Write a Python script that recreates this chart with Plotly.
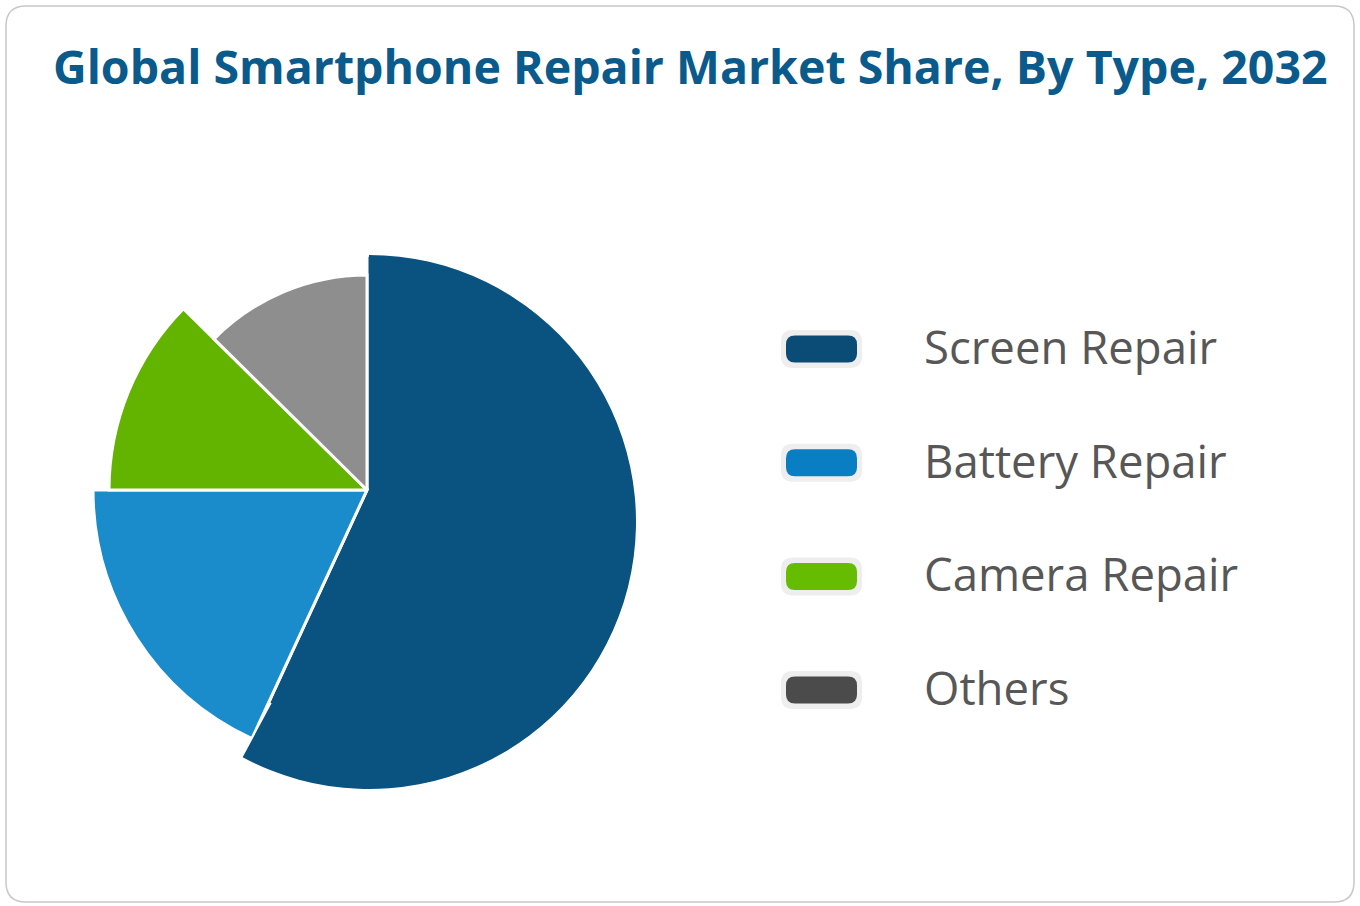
import plotly.graph_objects as go

# data
types = ['Screen Repair', 'Battery Repair', 'Camera Repair', 'Others']
share = [56.9, 18.1, 12.4, 12.6]          # % of the whole circle
radius_z = [267, 274, 258, 215]            # variable pie radius value

slice_colors = ['#0a5280', '#1a8bcb', '#63b400', '#8e8e8e']
legend_colors = ['#0b4c76', '#0a7ec2', '#65bc00', '#4b4b4b']

W, H = 1360, 906


def px(x):
    return x / W


def py(y):
    return 1 - y / H


def rounded_rect(x0, y0, x1, y1, r):
    # pixel box -> svg path in paper coords
    pts = [
        f"M {px(x0 + r)},{py(y0)}",
        f"L {px(x1 - r)},{py(y0)}",
        f"Q {px(x1)},{py(y0)} {px(x1)},{py(y0 + r)}",
        f"L {px(x1)},{py(y1 - r)}",
        f"Q {px(x1)},{py(y1)} {px(x1 - r)},{py(y1)}",
        f"L {px(x0 + r)},{py(y1)}",
        f"Q {px(x0)},{py(y1)} {px(x0)},{py(y1 - r)}",
        f"L {px(x0)},{py(y0 + r)}",
        f"Q {px(x0)},{py(y0)} {px(x0 + r)},{py(y0)} Z",
    ]
    return " ".join(pts)


widths = [s * 3.6 for s in share]
centers = []
acc = 0
for w in widths:
    centers.append(acc + w / 2)
    acc += w

# the big slice is drawn pushed down a little in the original,
# so it is drawn in two parts: a core at the centre and the pushed arc
drop = 32
extra = 3.4
r_main = [radius_z[0] - drop] + radius_z[1:]

fig = go.Figure()
fig.add_trace(go.Barpolar(
    r=r_main,
    theta=centers,
    width=widths,
    marker=dict(color=slice_colors, line=dict(color='white', width=3)),
    text=types,
    hoverinfo='text',
))
fig.add_trace(go.Barpolar(
    r=[radius_z[0]],
    theta=[centers[0] + extra / 2],
    width=[widths[0] + extra],
    marker=dict(color=slice_colors[0], line=dict(width=0)),
    text=[types[0]],
    hoverinfo='text',
    subplot='polar2',
))

cx, cy, R = 367, 490, 300
polar_common = dict(
    bgcolor='rgba(0,0,0,0)',
    angularaxis=dict(rotation=90, direction='clockwise', visible=False),
    radialaxis=dict(range=[0, R], visible=False),
)
fig.update_layout(
    width=W, height=H,
    margin=dict(l=0, r=0, t=0, b=0),
    paper_bgcolor='white',
    showlegend=False,
    polar=dict(domain=dict(x=[px(cx - R), px(cx + R)], y=[py(cy + R), py(cy - R)]),
               **polar_common),
    polar2=dict(domain=dict(x=[px(cx + 2 - R), px(cx + 2 + R)],
                            y=[py(cy + drop + R), py(cy + drop - R)]),
                **polar_common),
)

shapes = [dict(type='path', path=rounded_rect(6, 6, 1354, 902, 20),
               xref='paper', yref='paper',
               line=dict(color='#c8c8c8', width=1.5))]
annotations = [dict(
    text='<b>Global Smartphone Repair Market Share, By Type, 2032</b>',
    x=px(690), y=py(66), xref='paper', yref='paper',
    xanchor='center', yanchor='middle', showarrow=False,
    font=dict(family='Open Sans', size=46.5, color='#0a5a8c'),
)]

for i, name in enumerate(types):
    yc = 349 + i * 113.7
    shapes.append(dict(type='path', path=rounded_rect(781, yc - 19, 862, yc + 19, 12),
                       xref='paper', yref='paper', fillcolor='#eeeeee',
                       line=dict(width=0)))
    shapes.append(dict(type='path', path=rounded_rect(786, yc - 13.5, 857, yc + 13.5, 9),
                       xref='paper', yref='paper', fillcolor=legend_colors[i],
                       line=dict(width=0)))
    annotations.append(dict(
        text=name, x=px(922), y=py(yc - 3), xref='paper', yref='paper',
        xanchor='left', yanchor='middle', showarrow=False,
        font=dict(family='Open Sans', size=45.5, color='#575757'),
    ))

fig.update_layout(shapes=shapes, annotations=annotations)

fig.write_html("out.html", config={'displayModeBar': False},
               post_script="document.body.style.margin='0';")
